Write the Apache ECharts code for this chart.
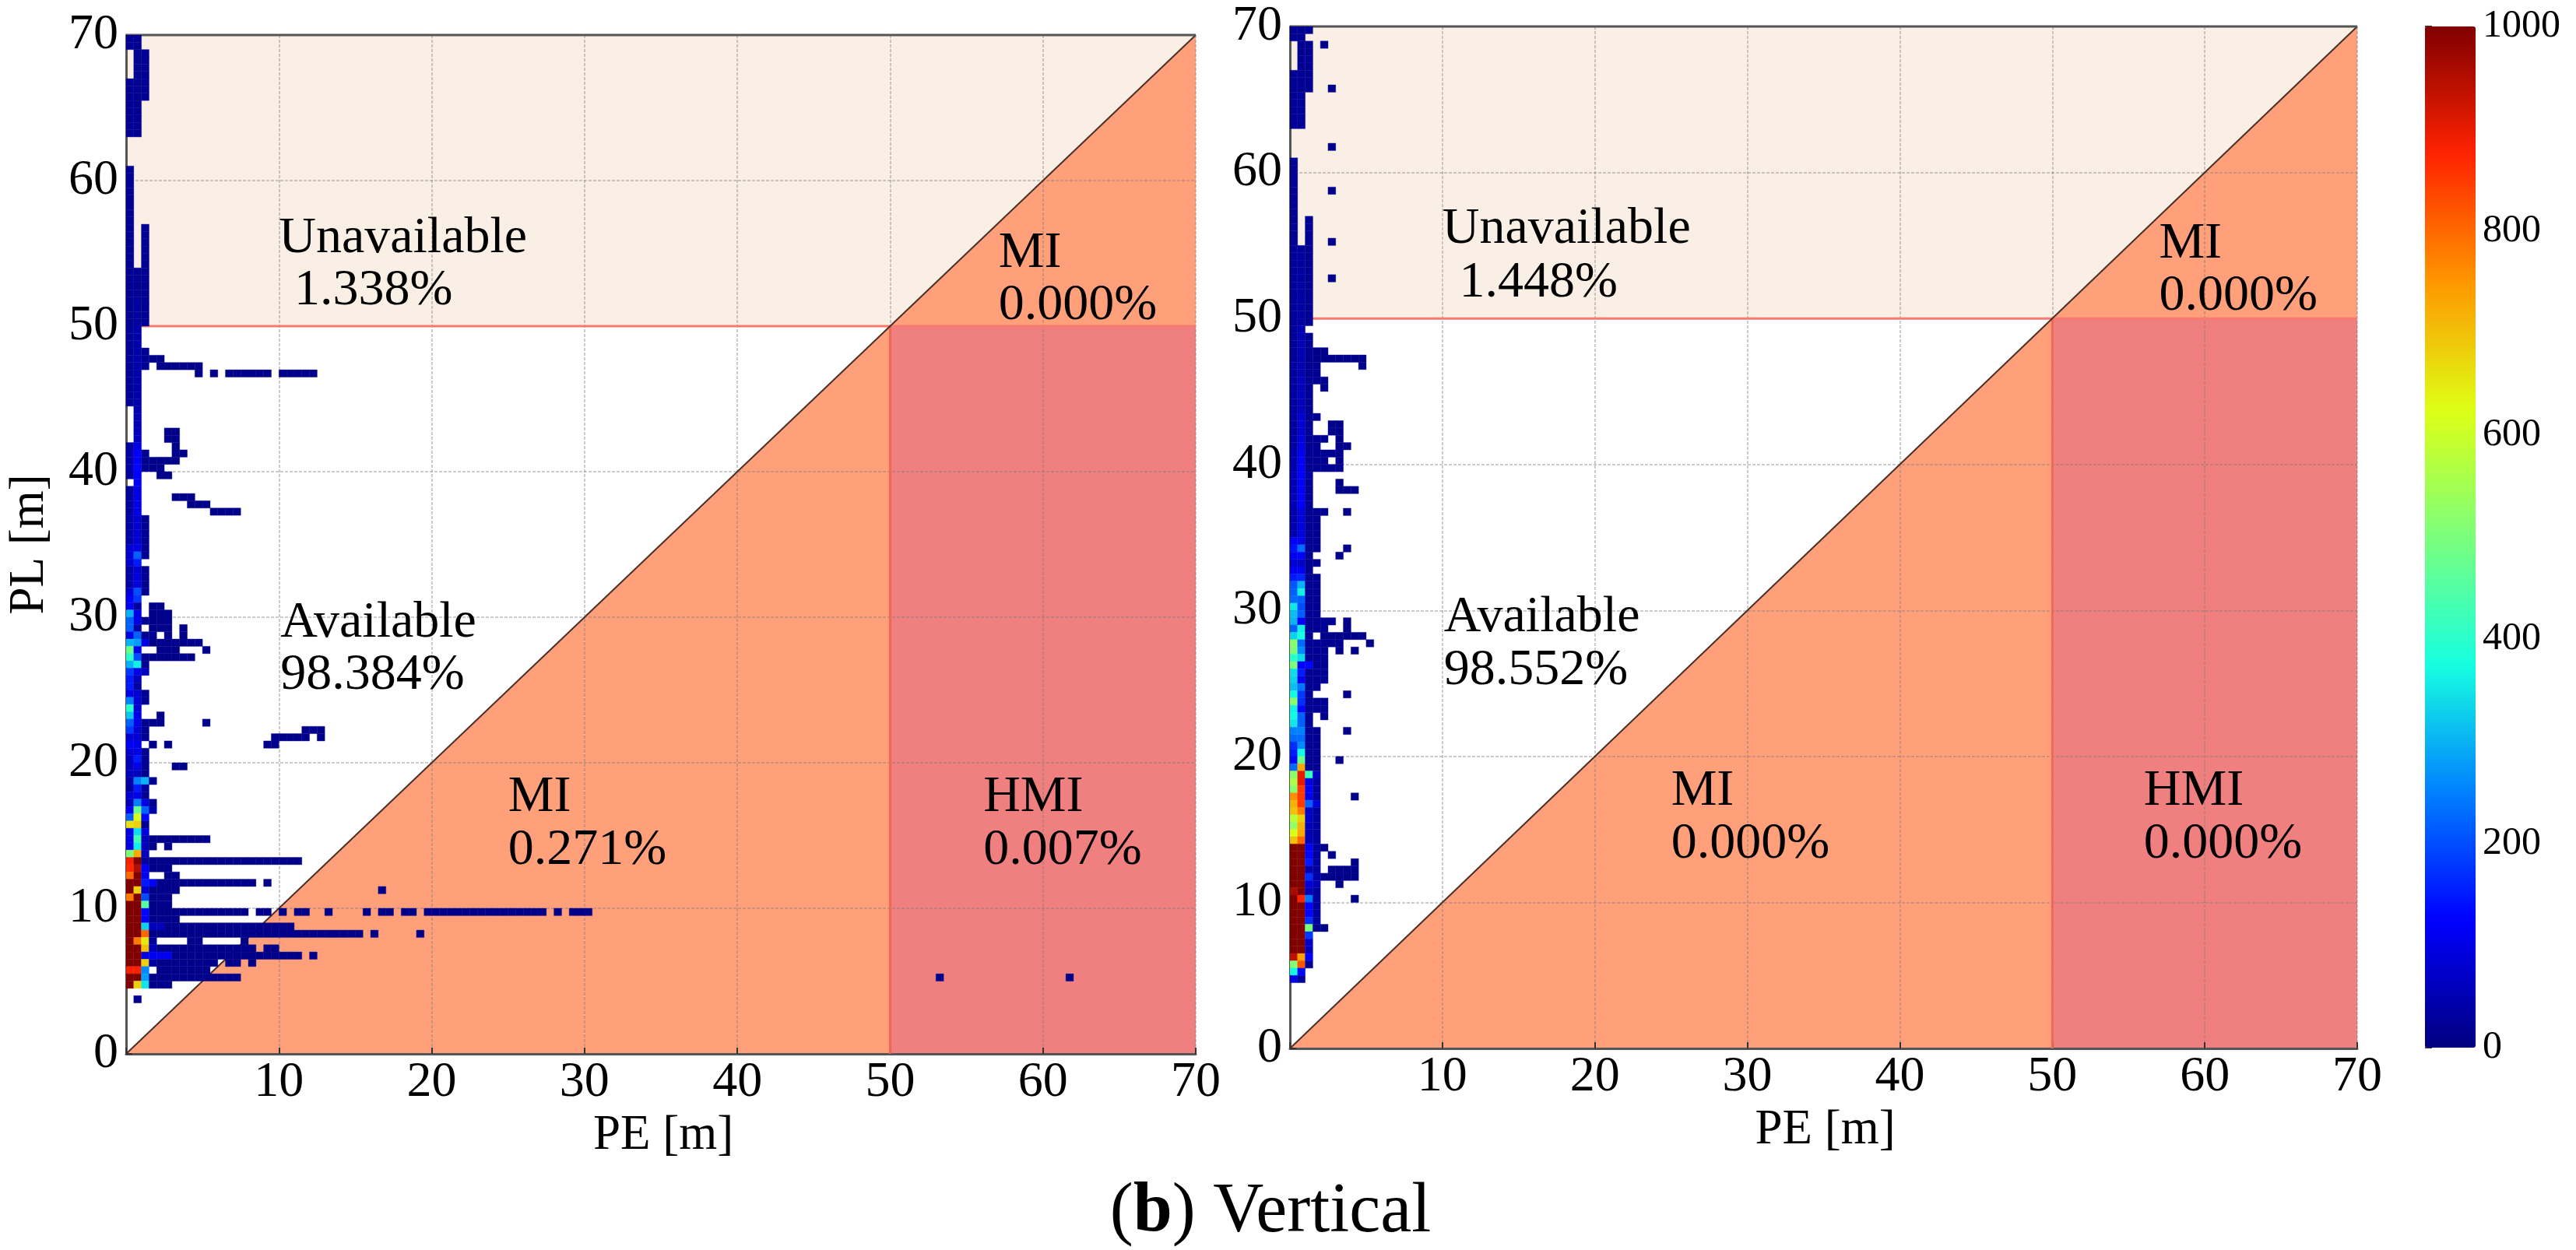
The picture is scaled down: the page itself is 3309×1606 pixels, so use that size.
<!DOCTYPE html>
<html><head><meta charset="utf-8">
<style>html,body{margin:0;padding:0;background:#fff}#c{width:3309px;height:1606px}</style>
<script src="https://cdn.jsdelivr.net/npm/echarts@6/dist/echarts.min.js"></script>
</head><body><div id="c"></div>
<script>
const n = null;
const binSize = 0.5;
const xTicks = [10,20,30,40,50,60,70];
const yTicks = [0,10,20,30,40,50,60,70];
const colorTicks = [0,200,400,600,800,1000];
const jetColors = ['#00007F','#0000FF','#0080FF','#16FFE1','#7BFF7B','#DEFF15','#FF9700','#FF2200','#800000'];
// each row: [topRow, bottomRow, [values of columns 0,1,2...], ...[firstCol,lastCol] runs of low counts]
const lowCount = 12;
const leftRows = [
 [139,138,[20,20]],[137,134,[n,20,20]],[133,131,[20,20,20]],[130,126,[20,20]],[121,114,[20]],
 [113,108,[20,n,20]],[107,104,[20,20,20]],[103,100,[20,30,20]],[99,97,[25,40]],[96,96,[25,40,20]],
 [95,95,[25,40,20],[3,4]],[94,94,[25,40,20],[4,9]],[93,93,[25,40],[9,9],[11,11],[13,18],[20,22],[23,24]],
 [92,89,[25,40]],[88,86,[n,50]],[85,84,[n,60],[5,6]],[83,83,[30,100],[6,6]],[82,82,[40,120,20],[6,7]],
 [81,81,[40,120,20],[3,6]],[80,80,[40,130,20],[3,4]],[79,79,[30,120],[4,5]],[78,78,[n,110]],[77,77,[30,100]],
 [76,76,[30,100],[6,8]],[75,75,[30,100],[8,10]],[74,74,[30,100],[11,14]],[73,70,[40,80,20]],
 [69,69,[80,100,20]],[68,68,[80,220,20]],[67,67,[80,150]],[66,66,[40,80,20]],[65,64,[40,90,20]],
 [63,63,[80,200,20]],[62,62,[120,180]],[61,61,[120,30],[3,4]],[60,60,[300,100],[3,5]],
 [59,59,[220,100,20],[3,5]],[58,58,[220,40],[3,5],[7,7]],[57,57,[100,220,20,20],[5,5],[7,7]],
 [56,56,[300,280,100],[3,9]],[55,55,[480,100],[4,6],[10,10]],[54,54,[400,200,20],[3,8]],
 [53,53,[300,360,20]],[52,52,[180,100,60]],[51,51,[150,60]],[50,50,[150,30]],[49,49,[100,80,20]],
 [48,48,[250,80,20]],[47,47,[400,80]],[46,46,[320,100],[4,4]],[45,45,[220,100,20],[3,4],[10,10]],
 [44,44,[180,80,20],[23,25]],[43,43,[80,80,20],[19,23],[25,25]],[42,42,[120,100],[3,3],[5,5],[18,19]],
 [41,41,[80,100,20]],[40,40,[60,150,20]],[39,39,[60,100,20],[6,7]],[38,38,[60,60,20]],
 [37,37,[40,250,300,20]],[36,36,[30,150,30]],[35,35,[80,100,20]],[34,34,[60,250,100,20]],
 [33,33,[120,480,220,40]],[32,32,[220,620,130]],[31,31,[660,680,20]],[30,30,[100,340,90]],
 [29,29,[100,430,60],[3,10]],[28,28,[100,360,60],[3,3],[5,5]],[27,27,[500,730,60]],
 [26,26,[880,1000,30],[3,22]],[25,25,[870,950,120],[3,5]],[24,24,[800,1000,110],[5,6]],
 [23,23,[1000,1000,150,120],[4,16],[18,18]],[22,22,[1000,680,80],[3,6],[33,33]],
 [21,21,[780,1000,200],[3,5]],[20,20,[1000,1000,450],[3,5]],
 [19,19,[1000,1000,130],[3,15],[17,18],[20,20],[22,23],[26,26],[31,31],[33,34],[36,37],[39,54],[56,56],[58,60]],
 [18,18,[1000,1000,120],[3,6]],[17,17,[1000,1000,330,60,60],[5,21]],
 [16,16,[1000,1000,800],[3,30],[32,32],[38,38]],[15,15,[1000,780,650,30],[8,9],[15,15]],
 [14,14,[1000,1000,700,60],[4,16],[18,19]],[13,13,[1000,1000,100,110,110,110],[6,22],[24,24]],
 [12,12,[1000,1000,680,40],[4,11],[13,14],[16,16]],[11,11,[880,880,260],[4,10]],
 [10,10,[1000,1000,280],[3,14],[106,106],[123,123]],[9,9,[1000,680,350],[3,5]],[7,7,[n,20]]
];
const rightRows = [
 [139,139,[20,20,20]],[138,138,[20,20]],[137,137,[n,20,20],[4,4]],[136,134,[n,20,20]],[133,132,[20,20,20]],
 [131,131,[20,20,20],[5,5]],[130,126,[20,25]],[123,123,[],[5,5]],[121,118,[20]],[117,117,[20],[5,5]],
 [116,114,[20]],[113,111,[20,n,20]],[110,110,[20,n,20],[5,5]],[109,106,[25,30,20]],[105,105,[25,30,20],[5,5]],
 [104,100,[25,35,20]],[99,99,[25,35,20]],[98,98,[25,50]],[97,96,[25,50,20]],[95,95,[25,50,20],[3,4]],
 [94,94,[25,50,20],[3,9]],[93,93,[30,50,20,20],[9,9]],[92,92,[30,50,20,20]],[91,91,[30,60,20,20,20]],
 [90,90,[30,60,20],[4,4]],[89,87,[30,60,20]],[86,86,[30,80,20,20]],[85,84,[30,80,20],[5,6]],
 [83,83,[30,90,20,20,20],[6,6]],[82,82,[30,100,20,20],[6,7]],[81,81,[40,110,20,20,20,20,20]],
 [80,80,[40,120,20,20,20],[6,6]],[79,79,[40,120,20,20,20,20,20]],[78,78,[50,120,30]],[77,77,[50,120,20],[6,6]],
 [76,76,[50,120,20],[6,8]],[75,74,[50,120,20]],[73,73,[40,90,20,20,20],[7,7]],[72,70,[40,90,20,20]],
 [69,69,[120,100,20,20]],[68,68,[140,230,20,20],[7,7]],[67,67,[110,120,20],[6,6]],[66,66,[80,70,20,20]],
 [65,65,[110,110,20]],[64,64,[150,160,20,20]],[63,63,[210,300,20,20]],[62,62,[220,360,20,20]],
 [61,61,[230,220,20,20]],[60,60,[350,200,20,20]],[59,59,[310,220,20,20]],[58,58,[300,120,20,20,20,20],[7,7]],
 [57,57,[220,360,20,20,20],[7,7]],[56,56,[330,380,20],[4,9]],[55,55,[520,230,20,20,20,20,20],[10,10]],
 [54,54,[500,260,20,20,20],[6,6],[8,8]],[53,53,[400,340,20,20,20]],[52,52,[500,120,130,20,20]],
 [51,51,[340,150,20,20,20]],[50,50,[330,110,20,20,20]],[49,49,[310,240,20,20]],[48,48,[370,180,20],[7,7]],
 [47,47,[520,170,20,20,20]],[46,46,[360,130,20,20,20]],[45,45,[370,220,20],[4,4]],[44,44,[350,220,20]],
 [43,43,[250,250,20,20],[7,7]],[42,42,[230,230,20,20]],[41,41,[170,260,20,20]],[40,40,[150,370,20,20]],
 [39,39,[130,480,20,20],[6,6]],[38,38,[230,730,20,20]],[37,37,[520,900,420,60]],[36,36,[560,900,100,30]],
 [35,35,[520,850,120,30]],[34,34,[760,850,110,30],[8,8]],[33,33,[720,850,220,90]],[32,32,[700,780,70,30]],
 [31,31,[580,680,70,30]],[30,30,[530,720,60,30]],[29,29,[620,730,50,30]],[28,28,[700,800,60,30]],
 [27,27,[1000,1000,120,30],[4,4]],[26,26,[1000,1000,130,30],[5,5]],[25,25,[1000,1000,150,30],[8,8]],
 [24,24,[1000,1000,50,30],[5,8]],[23,23,[1000,1000,170,40],[4,8]],[22,22,[1000,1000,90,50],[6,6]],
 [21,21,[960,1000,60,30]],[20,20,[1000,880,240,30],[8,8]],[19,18,[1000,1000,130,30]],[17,17,[1000,1000,170,30]],
 [16,16,[1000,1000,500],[3,4]],[15,15,[1000,1000,180]],[14,14,[1000,1000,70]],[13,13,[1000,1000,60]],
 [12,12,[940,740,120]],[11,11,[510,820,20]],[10,10,[370,130]],[9,9,[100,30]]
];
const leftNotes = [[10,56,'Unavailable'],[11,52.4,'1.338%'],[57.1,55,'MI'],[57.1,51.4,'0.000%'],
 [10.1,29.6,'Available'],[10.1,26,'98.384%'],[25,17.6,'MI'],[25,14,'0.271%'],[56.1,17.6,'HMI'],[56.1,14,'0.007%']];
const rightNotes = [[10,56.1,'Unavailable'],[11.1,52.4,'1.448%'],[57,55.1,'MI'],[57,51.5,'0.000%'],
 [10.1,29.5,'Available'],[10.1,25.9,'98.552%'],[25,17.6,'MI'],[25,14,'0.000%'],[56,17.6,'HMI'],[56,14,'0.000%']];
const regions = [
 {color:'#FAEFE5', pts:[[0,50],[50,50],[70,70],[0,70]]},
 {color:'#FFA07A', pts:[[50,50],[70,50],[70,70]]},
 {color:'#FFA07A', pts:[[0,0],[50,0],[50,50]]},
 {color:'#F08080', pts:[[50,0],[70,0],[70,50],[50,50]]}
];
const diagonal = [[0,0],[70,70]];
const limitH = [[1,50],[70,50]];
const limitV = [[50,0],[50,50]];
const topEdge = [[0,70],[70,70]];

function expand(rows){
  const out = [];
  rows.forEach(r=>{
    for(let row=r[0]; row>=r[1]; row--){
      r[2].forEach((v,c)=>{ if(v!==null) out.push([c*binSize,row*binSize,v]); });
      r.slice(3).forEach(run=>{ for(let c=run[0];c<=run[1];c++) out.push([c*binSize,row*binSize,lowCount]); });
    }
  });
  return out;
}
const FONT = 'Liberation Serif';
const chart = echarts.init(document.getElementById('c'), null, {renderer:'canvas', width:3309, height:1606});

function plotAxes(i, yName, nameShift){
  const common = {type:'value', min:0, max:70, interval:10, gridIndex:i, z:1,
    axisLine:{show:true, onZero:false, lineStyle:{color:'#555', width:3}},
    axisTick:{show:true, inside:true, length:8, lineStyle:{color:'#333', width:2}},
    minorTick:{show:false},
    splitLine:{show:true, lineStyle:{color:'rgba(120,120,120,0.38)', width:2, type:[4,2]}}};
  const labelStyle = {fontFamily:FONT, fontSize:64, color:'#000', hideOverlap:false};
  return {
    x:{...common, position:'bottom', name:'PE [m]', nameLocation:'middle', nameGap:72,
       axisLabel:{...labelStyle, margin:5, customValues:xTicks},
       nameTextStyle:{fontFamily:FONT, fontSize:63, color:'#000', padding:[0,0,0,nameShift]}},
    y:{...common, position:'left', name:yName, nameLocation:'middle', nameGap:92,
       axisLabel:{...labelStyle, margin:10, customValues:yTicks},
       nameTextStyle:{fontFamily:FONT, fontSize:63, color:'#000'}}
  };
}
const A0 = plotAxes(0,'PL [m]',6), A1 = plotAxes(1,'',4);

function regionSeries(i){
  return {type:'custom', xAxisIndex:i, yAxisIndex:i, z:0, silent:true, animation:false,
    data:regions.map((r,k)=>[k]),
    renderItem:(p,api)=>{
      const r = regions[api.value(0)];
      return {type:'polygon', shape:{points:r.pts.map(q=>api.coord(q))}, style:{fill:r.color}};
    }};
}
function heatSeries(i,data){
  return {type:'custom', xAxisIndex:i, yAxisIndex:i, z:3, silent:true, animation:false, clip:true,
    encode:{x:0,y:1}, data,
    renderItem:(p,api)=>{
      const a = api.coord([api.value(0),api.value(1)+binSize]);
      const b = api.coord([api.value(0)+binSize,api.value(1)]);
      const col = api.visual('color');
      return {type:'rect', shape:{x:a[0],y:a[1],width:b[0]-a[0],height:b[1]-a[1]},
        style:{fill:col, stroke:col, lineWidth:0.4}};
    }};
}
function lineSeries(i,data,color,width,z){
  return {type:'line', xAxisIndex:i, yAxisIndex:i, data, z, silent:true, animation:false, symbol:'none',
    clip:false, lineStyle:{color,width}};
}
function noteSeries(i,data){
  return {type:'scatter', xAxisIndex:i, yAxisIndex:i, data, z:5, silent:true, animation:false,
    symbolSize:0, itemStyle:{opacity:1}, label:{show:true, position:'right', distance:0, formatter:p=>p.value[2],
      fontFamily:FONT, fontSize:66, color:'#000'}};
}
const leftData = expand(leftRows), rightData = expand(rightRows);
const series = [];
[0,1].forEach(i=>{
  series.push(regionSeries(i));
  series.push(lineSeries(i,limitH,'#F77A72',3,2));
  series.push(lineSeries(i,limitV,'#EE6A55',3,2));
  series.push(lineSeries(i,diagonal,'#4a3028',2,2));
  series.push(lineSeries(i,topEdge,'#555',3,2));
});
const heatL = series.length; series.push(heatSeries(0,leftData));
const heatR = series.length; series.push(heatSeries(1,rightData));
series.push(noteSeries(0,leftNotes)); series.push(noteSeries(1,rightNotes));

chart.setOption({
  backgroundColor:'#fff', animation:false,
  title:{text:'({b|b}) Vertical', left:1627, top:1508, textAlign:'center',
    textStyle:{fontFamily:FONT, fontSize:90, fontWeight:'normal', color:'#000',
      rich:{b:{fontFamily:FONT, fontSize:90, fontWeight:'bold', color:'#000'}}}},
  grid:[
    {left:162, top:45, width:1374, height:1309},
    {left:1657, top:34, width:1371, height:1313},
    {left:3115, top:34, width:65, height:1312}
  ],
  xAxis:[A0.x, A1.x, {type:'value', gridIndex:2, show:false, min:0, max:1}],
  yAxis:[A0.y, A1.y, {type:'value', gridIndex:2, min:0, max:1000, interval:200, position:'right',
    axisLine:{show:false}, splitLine:{show:false},
    axisTick:{show:true, length:9, lineStyle:{color:'#333', width:2}},
    axisLabel:{fontFamily:FONT, fontSize:50, color:'#000', margin:9, customValues:colorTicks, formatter:v=>String(v)}}],
  visualMap:{type:'continuous', min:0, max:1000, dimension:2, seriesIndex:[heatL,heatR],
    inRange:{color:jetColors}, left:3115, top:34, itemWidth:65, itemHeight:1312, padding:0,
    calculable:false, hoverLink:false, text:null, orient:'vertical'},
  series
});
</script></body></html>
